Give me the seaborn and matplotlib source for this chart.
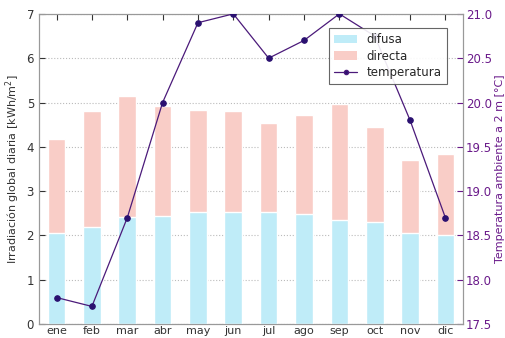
import numpy as np
import pandas as pd
import matplotlib
matplotlib.use("Agg")
import matplotlib.pyplot as plt
import seaborn as sns
from matplotlib.patches import Patch
from matplotlib.lines import Line2D

meses = ["ene", "feb", "mar", "abr", "may", "jun", "jul", "ago", "sep", "oct", "nov", "dic"]
difusa = [2.05, 2.19, 2.42, 2.44, 2.53, 2.52, 2.54, 2.49, 2.35, 2.30, 2.05, 2.00]
directa = [2.12, 2.62, 2.73, 2.48, 2.31, 2.29, 1.99, 2.23, 2.61, 2.15, 1.65, 1.83]
temperatura = [17.8, 17.7, 18.7, 20.0, 20.9, 21.0, 20.5, 20.7, 21.0, 20.75, 19.8, 18.7]

sns.set_style("white")
plt.rcParams["font.family"] = ["DejaVu Sans"]

c_dif = "#bfecf8"
c_dir = "#f9cdc7"
c_temp = "#4b1a7a"
c_lab = "#6a1a8a"

df = pd.DataFrame({"mes": meses, "difusa": difusa, "directa": directa, "temp": temperatura})
df["global"] = df["difusa"] + df["directa"]

fig = plt.figure(figsize=(5.05, 3.38), dpi=100)
ax = fig.add_axes([0.077, 0.041, 0.84, 0.918])

sns.barplot(data=df, x="mes", y="global", color=c_dir, saturation=1, width=0.5, ax=ax, zorder=2)
sns.barplot(data=df, x="mes", y="difusa", color=c_dif, saturation=1, width=0.5, ax=ax, zorder=3)
ax.set_xlim(-0.5, 11.5)
ax.set_ylim(0, 7)
ax.set_xlabel("")
ax.set_ylabel("Irradiación global diaria [kWh/m$^2$]", fontsize=8, color="#333333", labelpad=3)
ax.yaxis.grid(True, linestyle=":", color="#bbbbbb", linewidth=0.8, zorder=0)
ax.set_axisbelow(True)
ax.tick_params(axis="both", direction="in", length=4, labelsize=8.5, colors="#333333",
               top=True, bottom=True, left=True)
ax.tick_params(axis="x", pad=1, labelsize=8)

ax2 = ax.twinx()
sns.lineplot(x=np.arange(len(meses)), y=df["temp"], ax=ax2, color=c_temp, marker="o",
             markersize=4, markeredgecolor="#2a1070", markerfacecolor="#2a1070",
             linewidth=0.9, zorder=5)
ax2.set_ylim(17.5, 21.0)
ax2.set_yticks(np.arange(17.5, 21.01, 0.5))
ax2.set_ylabel("Temperatura ambiente a 2 m [°C]", fontsize=8, color=c_lab, labelpad=2)
ax2.tick_params(axis="y", direction="in", length=4, labelsize=8.5, colors=c_lab, pad=2)
ax2.yaxis.label.set_color(c_lab)
ax2.set_xlim(-0.5, 11.5)

for a in (ax, ax2):
    for s in a.spines.values():
        s.set_color("#999999")
        s.set_linewidth(0.8)

handles = [Patch(facecolor=c_dif, edgecolor="none", label="difusa"),
           Patch(facecolor=c_dir, edgecolor="none", label="directa"),
           Line2D([0], [0], color=c_temp, marker="o", markersize=3,
                  markerfacecolor="#2a1070", linewidth=0.9, label="temperatura")]
leg = ax2.legend(handles=handles, loc="upper right", bbox_to_anchor=(0.975, 0.972),
                 fontsize=8.5, frameon=True, fancybox=False, framealpha=0.9,
                 borderpad=0.4, labelspacing=0.3, handlelength=2.0)
leg.get_frame().set_edgecolor("#555555")
leg.get_frame().set_linewidth(0.8)
leg.set_zorder(10)

fig.savefig("out.png", dpi=100)
